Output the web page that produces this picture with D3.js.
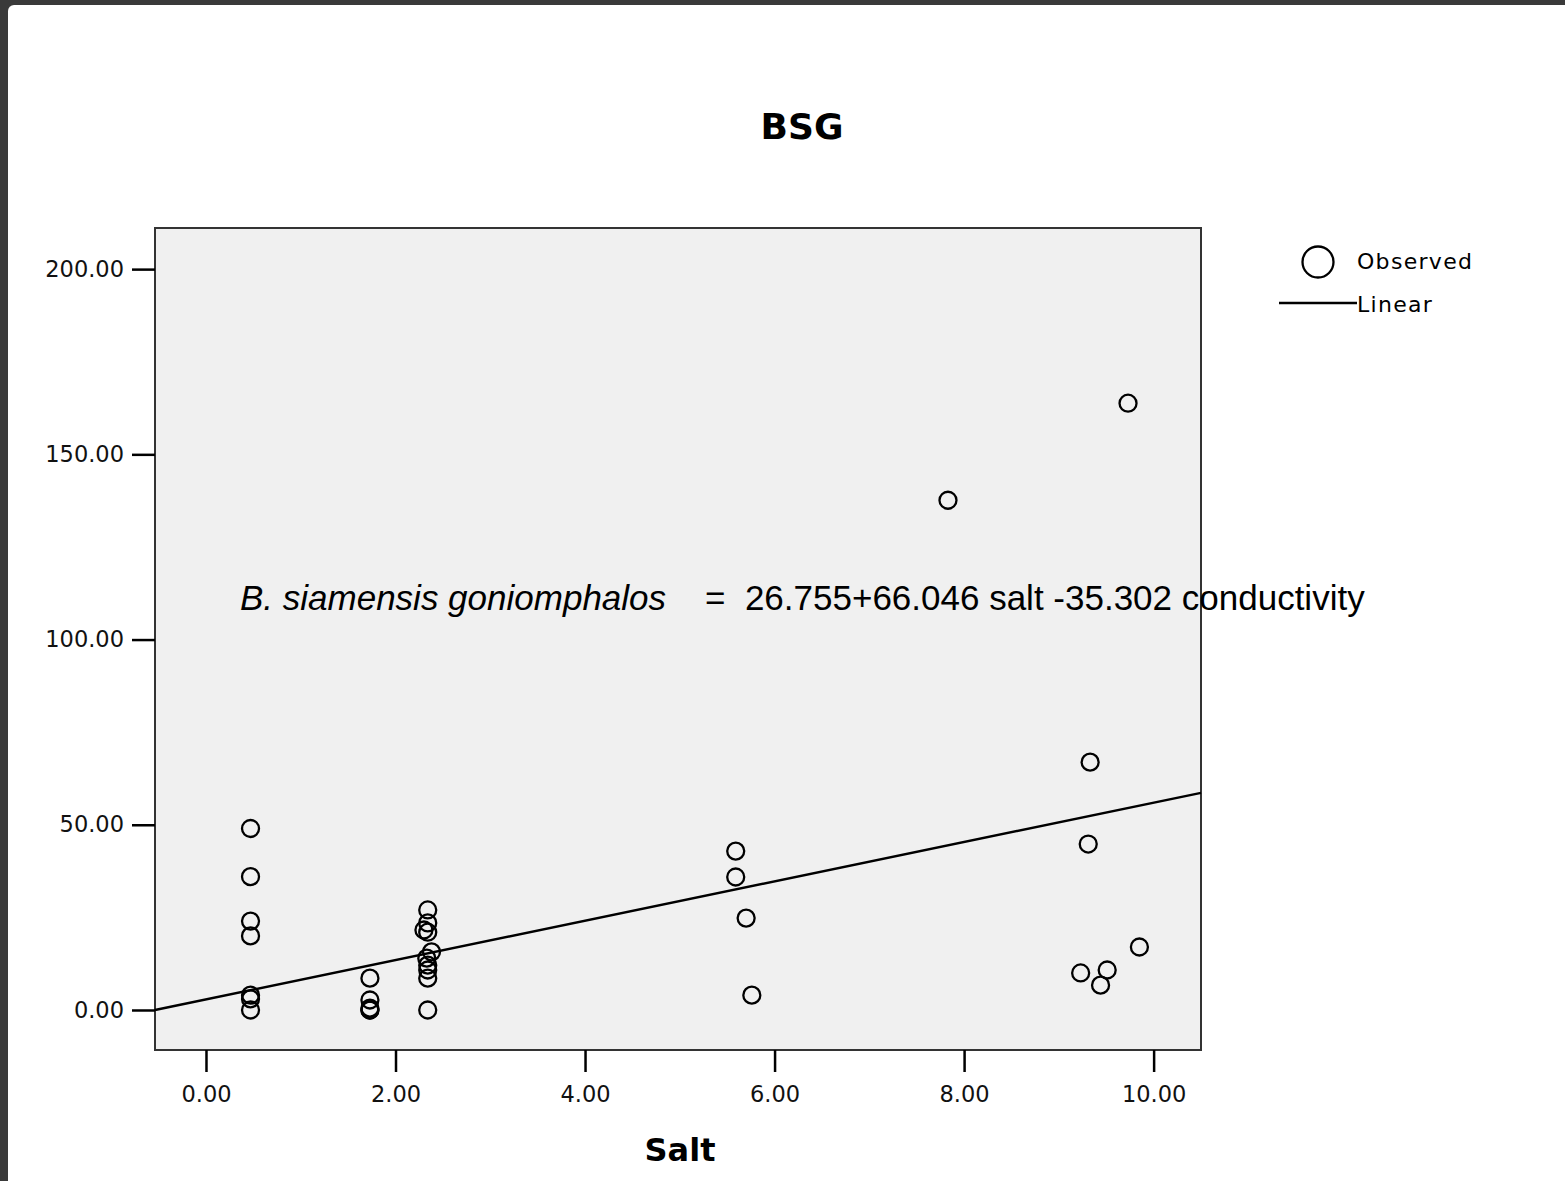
<!DOCTYPE html>
<html>
<head>
<meta charset="utf-8">
<script src="https://cdn.jsdelivr.net/npm/d3@7"></script>
<style>
  html, body { margin: 0; padding: 0; background: #3a3a3a; }
  svg { display: block; }
</style>
</head>
<body>
<div id="chart"></div>
<script>
// observed points (salt, BSG)
var saltValues = [
  0.47, 0.47, 0.47, 0.47, 0.47, 0.47, 0.47,
  1.73, 1.73, 1.73, 1.73, 1.73,
  2.34, 2.34, 2.30, 2.34, 2.38, 2.33, 2.34, 2.34, 2.34, 2.34,
  5.59, 5.59, 5.70, 5.76,
  7.83, 9.73,
  9.33, 9.31, 9.85, 9.51, 9.23, 9.44
];
var bsgValues = [
  49, 36, 24, 20, 4, 3, 0,
  8.6, 2.7, 0.5, 0, 0,
  27.0, 23.5, 21.6, 21.0, 15.7, 14.0, 12.1, 10.8, 8.6, 0,
  42.9, 35.9, 24.8, 4.0,
  137.6, 163.8,
  66.9, 44.8, 17.0, 10.8, 10.0, 6.7
];
// fitted linear line
var linearFit = [2.86, 5.31]; // intercept, slope

var xTicks = [0, 2, 4, 6, 8, 10];
var yTicks = [0, 50, 100, 150, 200];
var xDomain = [-0.538, 10.5];
var yDomain = [-10.8, 211.1];

var width = 1565, height = 1181;
var plot = {left: 155, right: 1201, top: 228, bottom: 1050};

var svg = d3.select('#chart').append('svg')
  .attr('width', width)
  .attr('height', height);

// dark window edge + white page
svg.append('rect').attr('width', width).attr('height', height).attr('fill', '#3a3a3a');
svg.append('rect')
  .attr('x', 8).attr('y', 5)
  .attr('width', width).attr('height', height)
  .attr('rx', 6)
  .attr('fill', '#ffffff');

var x = d3.scaleLinear().domain(xDomain).range([plot.left, plot.right]);
var y = d3.scaleLinear().domain(yDomain).range([plot.bottom, plot.top]);

svg.append('text')
  .attr('x', 802).attr('y', 139)
  .attr('text-anchor', 'middle')
  .style('font-family', 'DejaVu Sans')
  .style('font-weight', 'bold')
  .style('font-size', '36px')
  .text('BSG');

svg.append('rect')
  .attr('x', plot.left).attr('y', plot.top)
  .attr('width', plot.right - plot.left)
  .attr('height', plot.bottom - plot.top)
  .attr('fill', '#f0f0f0')
  .attr('stroke', '#333')
  .attr('stroke-width', 2);

var yAxis = svg.append('g')
  .attr('transform', 'translate(' + plot.left + ',0)')
  .call(d3.axisLeft(y).tickValues(yTicks).tickFormat(d3.format('.2f')).tickSize(23).tickPadding(8));
yAxis.select('.domain').remove();

var xAxis = svg.append('g')
  .attr('transform', 'translate(0,' + plot.bottom + ')')
  .call(d3.axisBottom(x).tickValues(xTicks).tickFormat(d3.format('.2f')).tickSize(22));
xAxis.select('.domain').remove();
xAxis.selectAll('text').attr('y', 52).attr('dy', 0);

svg.selectAll('.tick line').attr('stroke', '#000').attr('stroke-width', 2.5);
svg.selectAll('.tick text')
  .attr('fill', '#111')
  .style('font-family', 'DejaVu Sans')
  .style('font-size', '22.5px');

// fitted line
var lineData = xDomain.map(function(d) {
  return {x: d, y: linearFit[0] + linearFit[1] * d};
});
svg.append('path')
  .datum(lineData)
  .attr('d', d3.line().x(function(d) { return x(d.x); }).y(function(d) { return y(d.y); }))
  .attr('fill', 'none')
  .attr('stroke', '#000')
  .attr('stroke-width', 2.5);

svg.append('g').selectAll('circle')
  .data(saltValues)
  .enter()
  .append('circle')
  .attr('cx', function(d) { return x(d); })
  .attr('cy', function(d, i) { return y(bsgValues[i]); })
  .attr('r', 8.5)
  .attr('fill', 'none')
  .attr('stroke', '#000')
  .attr('stroke-width', 2.3);

// equation annotation
svg.append('text')
  .attr('x', 240).attr('y', 610)
  .style('font-family', 'Liberation Sans, Arial, sans-serif')
  .style('font-style', 'italic')
  .style('font-size', '35px')
  .text('B. siamensis goniomphalos');
svg.append('text')
  .attr('x', 705).attr('y', 610)
  .attr('xml:space', 'preserve')
  .style('font-family', 'Liberation Sans, Arial, sans-serif')
  .style('font-size', '35px')
  .style('white-space', 'pre')
  .text('=  26.755+66.046 salt -35.302 conductivity');

svg.append('text')
  .attr('x', 680).attr('y', 1161)
  .attr('text-anchor', 'middle')
  .style('font-family', 'DejaVu Sans')
  .style('font-weight', 'bold')
  .style('font-size', '32px')
  .text('Salt');

// legend
var legend = svg.append('g');
legend.append('circle')
  .attr('cx', 1318).attr('cy', 262).attr('r', 15.5)
  .attr('fill', 'none').attr('stroke', '#000').attr('stroke-width', 2.3);
legend.append('line')
  .attr('x1', 1279).attr('x2', 1357).attr('y1', 303).attr('y2', 303)
  .attr('stroke', '#000').attr('stroke-width', 2.5);
legend.selectAll('text')
  .data(['Observed', 'Linear'])
  .enter()
  .append('text')
  .attr('x', 1357)
  .attr('y', function(d, i) { return i ? 312 : 269; })
  .style('font-family', 'DejaVu Sans')
  .style('font-size', '22px')
  .style('letter-spacing', '1.3px')
  .text(function(d) { return d; });
</script>
</body>
</html>
